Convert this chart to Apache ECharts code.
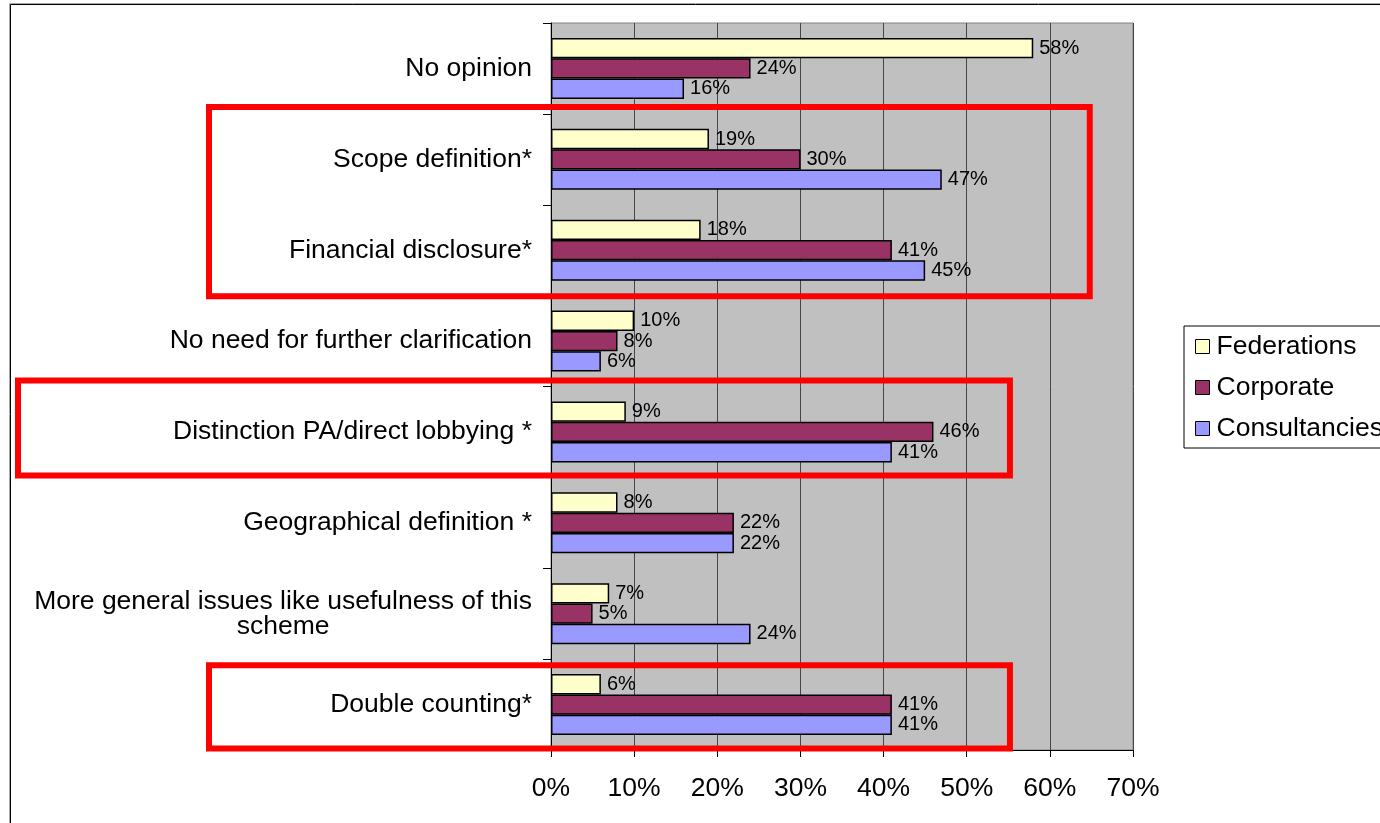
<!DOCTYPE html>
<html>
<head>
<meta charset="utf-8">
<script src="https://cdn.jsdelivr.net/npm/echarts@6/dist/echarts.min.js"></script>
<style>
  html, body { margin: 0; padding: 0; background: #ffffff; }
  #chart { width: 1380px; height: 823px; }
</style>
</head>
<body>
<div id="chart"></div>
<script>
// Survey answers: share of respondents per group, in percent
const categories = [
  'No opinion',
  'Scope definition*',
  'Financial disclosure*',
  'No need for further clarification',
  'Distinction PA/direct lobbying *',
  'Geographical definition *',
  'More general issues like usefulness of this scheme',
  'Double counting*'
];
const seriesNames = ['Federations', 'Corporate', 'Consultancies'];
const federations   = [58, 19, 18, 10, 9, 8, 7, 6];
const corporate     = [24, 30, 41, 8, 46, 22, 5, 41];
const consultancies = [16, 47, 45, 6, 41, 22, 24, 41];
const axisMin = 0;
const axisMax = 70;
const axisStep = 10;

// Highlight frames around the starred topics (first/last category, right edge in %)
const highlights = [
  { first: 'Scope definition*', last: 'Financial disclosure*', rightValue: 64.8 },
  { first: 'Distinction PA/direct lobbying *', last: 'Distinction PA/direct lobbying *', rightValue: 55.2 },
  { first: 'Double counting*', last: 'Double counting*', rightValue: 55.2 }
];

const FONT = '"Liberation Sans", Arial, sans-serif';
const AXIS_FONT_SIZE = 26.5;
const colors = ['#FFFFCC', '#993366', '#9999FF'];
const values = [federations, corporate, consultancies];

// word-wrap long category names so that each line fits a given width
const measureCtx = document.createElement('canvas').getContext('2d');
measureCtx.font = AXIS_FONT_SIZE + 'px "Liberation Sans"';
function wrapText(text, maxWidth) {
  const words = text.split(' ');
  const lines = [];
  let line = '';
  words.forEach(function (w) {
    const test = line ? line + ' ' + w : w;
    if (line && measureCtx.measureText(test).width > maxWidth) {
      lines.push(line);
      line = w;
    } else {
      line = test;
    }
  });
  if (line) lines.push(line);
  return lines;
}

const chart = echarts.init(document.getElementById('chart'), null, { renderer: 'canvas' });

const option = {
  animation: false,
  backgroundColor: '#ffffff',
  textStyle: { fontFamily: FONT },
  grid: {
    left: 551,
    right: 247,
    top: 23,
    bottom: 73,
    show: true,
    backgroundColor: '#C0C0C0',
    borderColor: '#808080',
    borderWidth: 1
  },
  legend: {
    orient: 'vertical',
    left: 1184,
    top: 326,
    padding: [7, 10, 6, 11],
    itemGap: 14,
    itemWidth: 14,
    itemHeight: 14,
    icon: 'rect',
    backgroundColor: '#ffffff',
    borderColor: '#000000',
    borderWidth: 1,
    borderRadius: 0,
    itemStyle: { borderColor: '#000000', borderWidth: 1 },
    textStyle: { fontFamily: FONT, fontSize: AXIS_FONT_SIZE, color: '#000000', padding: [0, 0, 0, 2] },
    data: seriesNames
  },
  xAxis: {
    type: 'value',
    min: axisMin,
    max: axisMax,
    interval: axisStep,
    axisLine: { show: true, lineStyle: { color: '#000000', width: 1 } },
    axisTick: { show: true, length: 7, lineStyle: { color: '#000000' } },
    axisLabel: {
      formatter: '{value}%',
      fontFamily: FONT,
      fontSize: AXIS_FONT_SIZE,
      color: '#000000',
      margin: 25
    },
    splitLine: { show: true, lineStyle: { color: '#454545', width: 1 } }
  },
  yAxis: {
    type: 'category',
    inverse: true,
    data: categories,
    axisLine: { show: true, lineStyle: { color: '#000000', width: 1 } },
    axisTick: { show: true, length: 8, lineStyle: { color: '#000000' } },
    axisLabel: {
      margin: 19,
      color: '#000000',
      formatter: function (v) {
        return wrapText(v, 510).map(function (l) { return '{c|' + l + '}'; }).join('\n');
      },
      rich: {
        c: { fontFamily: FONT, fontSize: AXIS_FONT_SIZE, lineHeight: 25, color: '#000000', align: 'center' }
      }
    },
    splitLine: { show: false }
  },
  series: seriesNames.map(function (name, i) {
    return {
      name: name,
      type: 'bar',
      data: values[i],
      barGap: '0%',
      barCategoryGap: '33%',
      itemStyle: { color: colors[i], borderColor: '#000000', borderWidth: 1.5 },
      label: {
        show: true,
        position: 'right',
        distance: 6,
        formatter: '{c}%',
        fontFamily: FONT,
        fontSize: 20,
        color: '#000000'
      }
    };
  })
};

chart.setOption(option);

// frames drawn on top of the chart, placed from the category axis
function drawFrames() {
  const c0 = chart.convertToPixel({ yAxisIndex: 0 }, categories[0]);
  const c1 = chart.convertToPixel({ yAxisIndex: 0 }, categories[1]);
  const band = Math.abs(c1 - c0);
  const insets = [[-7, 0.5, 209], [-6, -2, 18], [6, -1.5, 209]];
  const elements = [
    {
      type: 'rect',
      shape: { x: 9.5, y: 3.5, width: 1400, height: 840 },
      style: { fill: 'none', stroke: '#a8a8a8', lineWidth: 1 },
      silent: true, z: 99
    },
    {
      type: 'rect',
      shape: { x: 10.5, y: 4.5, width: 1400, height: 840 },
      style: { fill: 'none', stroke: '#000000', lineWidth: 1 },
      silent: true, z: 100
    }
  ];
  highlights.forEach(function (h, k) {
    const yTop = chart.convertToPixel({ yAxisIndex: 0 }, h.first) - band / 2 + insets[k][0];
    const yBot = chart.convertToPixel({ yAxisIndex: 0 }, h.last) + band / 2 + insets[k][1];
    const xRight = chart.convertToPixel({ xAxisIndex: 0 }, h.rightValue);
    const xLeft = insets[k][2];
    elements.push({
      type: 'rect',
      shape: { x: xLeft, y: yTop, width: xRight - xLeft, height: yBot - yTop },
      style: { fill: 'none', stroke: '#FF0000', lineWidth: 6 },
      silent: true, z: 100
    });
  });
  chart.setOption({ graphic: { elements: elements } });
}
drawFrames();
</script>
</body>
</html>
